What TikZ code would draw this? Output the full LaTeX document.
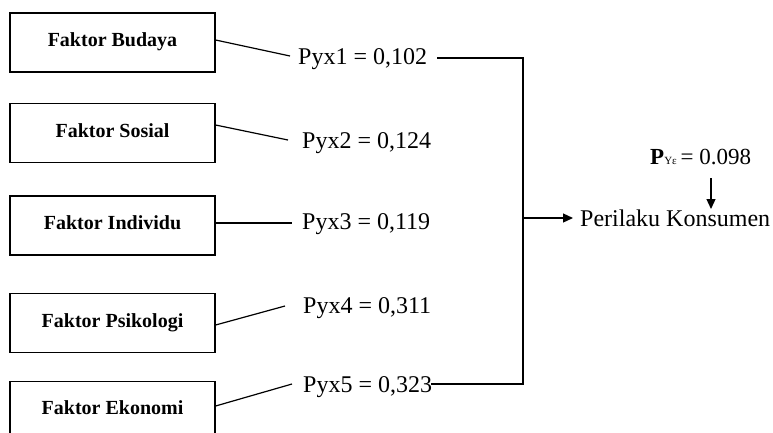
\documentclass[tikz,border=0pt]{standalone}
\usepackage{fontspec}
\setmainfont{Liberation Serif}
\usetikzlibrary{arrows.meta}
\tikzset{
  factor/.style={draw, line width=1.2pt, minimum width=205pt, minimum height=59pt,
    inner sep=0pt, font=\fontsize{20}{22}\selectfont\bfseries},
  coef/.style={anchor=base west, inner sep=0pt, font=\fontsize{24}{26}\selectfont},
  link/.style={line width=1.2pt},
  tip/.style={-{Triangle[length=10pt,width=9pt]}, line width=1.2pt}
}
\begin{document}
\begin{tikzpicture}[x=1pt,y=-1pt]
\clip (0,0) rectangle (773,432);
\fill[white] (0,0) rectangle (773,432);

% factor boxes (text sits slightly above centre)
\node[factor] (b1) at (112.5,42.5) {\raisebox{5pt}{Faktor Budaya}};
\node[factor] (b2) at (112.5,133) {\raisebox{5pt}{Faktor Sosial}};
\node[factor] (b3) at (112.5,225.5) {\raisebox{5pt}{Faktor Individu}};
\node[factor] (b4) at (112.5,323) {\raisebox{5pt}{Faktor Psikologi}};
\node[factor] (b5) at (112.5,411) {\raisebox{7pt}{Faktor Ekonomi}};

% path coefficients
\node[coef] (p1) at (298,64) {Pyx1 = 0,102};
\node[coef] (p2) at (302,148) {Pyx2 = 0,124};
\node[coef] (p3) at (302,229) {Pyx3 = 0,119};
\node[coef] (p4) at (303,313) {Pyx4 = 0,311};
\node[coef] (p5) at (303,392) {Pyx5 = 0,323};

% leader lines from boxes to coefficients
\coordinate (e1) at (290,56);
\coordinate (e2) at (288,140);
\coordinate (e3) at (292,223);
\coordinate (e4) at (285,306);
\coordinate (e5) at (292,384);
\draw[link] (b1.east |- 0,40) -- (e1);
\draw[link] (b2.east |- 0,125) -- (e2);
\draw[link] (b3.east |- 0,223) -- (e3);
\draw[link] (b4.east |- 0,325) -- (e4);
\draw[link] (b5.east |- 0,406) -- (e5);

% collecting bracket
\coordinate (t1) at (437,58);
\coordinate (t5) at (431,384);
\coordinate (bx) at (523,0);
\draw[link] (t1) -- (t1 -| bx) -- (t5 -| bx) -- (t5);

% outcome
\node[anchor=base west, inner sep=0pt, font=\fontsize{24}{26}\selectfont] (y) at (580,226) {Perilaku Konsumen};
\coordinate (j) at (523,218);
\draw[tip] (j) -- (573,218);

% residual
\node[anchor=base west, inner sep=0pt, font=\fontsize{23}{25}\selectfont] (r) at (650,164)
  {\textbf{P}{\fontsize{11}{12}\selectfont Yε}\,= 0.098};
\draw[tip] (711,178) -- (711,209);
\end{tikzpicture}
\end{document}
